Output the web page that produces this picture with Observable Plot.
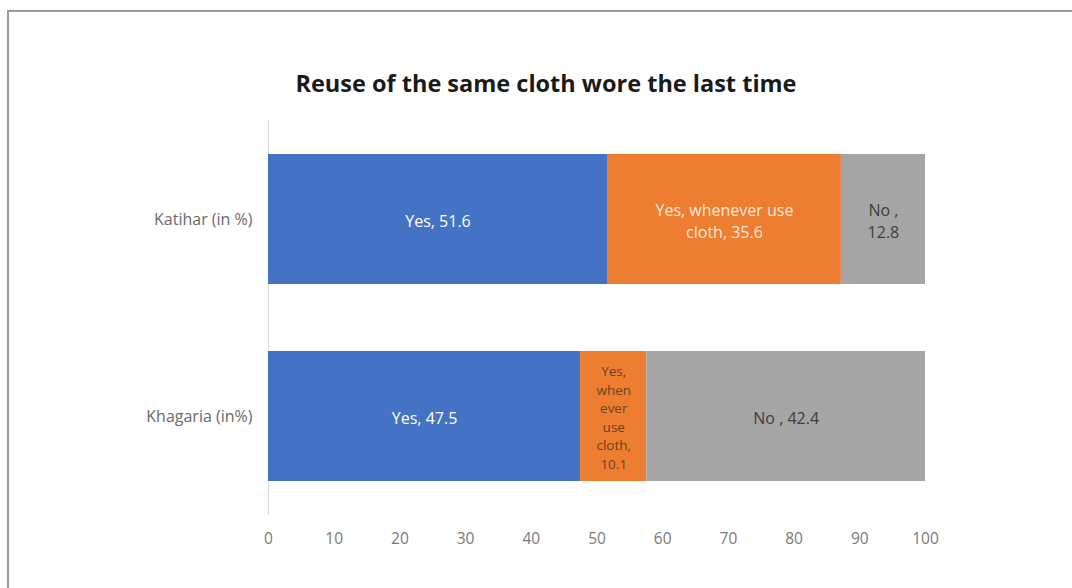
<!DOCTYPE html>
<html>
<head>
<meta charset="utf-8">
<script src="https://cdn.jsdelivr.net/npm/d3@7"></script>
<script src="https://cdn.jsdelivr.net/npm/@observablehq/plot@0.6"></script>
<style>
  html, body { margin: 0; padding: 0; background: #fff; }
  #wrap { position: relative; width: 1072px; height: 588px; overflow: hidden; font-family: "Open Sans", sans-serif; }
  #frame { position: absolute; left: 7px; top: 10px; right: -4px; bottom: -4px; border-left: 2px solid #9a9a9a; border-top: 2px solid #9a9a9a; }
  #title { position: absolute; left: 0; width: 1092px; top: 67px; text-align: center; font: bold 23.5px "Open Sans", sans-serif; color: #1a1a1a; line-height: 32px; }
  #chart { position: absolute; left: 0; top: 0; }
</style>
</head>
<body>
<div id="wrap">
  <div id="chart"></div>
  <div id="frame"></div>
  <div id="title">Reuse of the same cloth wore the last time</div>
</div>
<script>
// Districts (top to bottom) and response categories (left to right)
const regions = ["Katihar (in %)", "Khagaria (in%)"];
const responses = ["Yes", "Yes, whenever use cloth", "No"];

// Percentages per district, in response order
const katiharValues = [51.6, 35.6, 12.8];
const khagariaValues = [47.5, 10.1, 42.4];

// Label prefix written inside each segment (the value is appended)
const katiharPrefixes = ["Yes, ", "Yes, whenever use\ncloth, ", "No ,\n"];
const khagariaPrefixes = ["Yes, ", "Yes,\nwhen\never\nuse\ncloth,\n", "No , "];

const xTicks = [0, 10, 20, 30, 40, 50, 60, 70, 80, 90, 100];

const colors = ["#4472C4", "#ED7D31", "#A5A5A5"];
const labelColors = {
  "Katihar (in %)": ["#ffffff", "#fbe9da", "#404040"],
  "Khagaria (in%)": ["#ffffff", "#6b4422", "#404040"]
};

// One row per segment, with its running start so labels sit mid-segment
const rows = [];
[[regions[0], katiharValues, katiharPrefixes], [regions[1], khagariaValues, khagariaPrefixes]]
  .forEach(([region, values, prefixes]) => {
    let start = 0;
    values.forEach((v, i) => {
      rows.push({
        region,
        response: responses[i],
        value: v,
        start,
        mid: start + v / 2,
        label: prefixes[i] + v,
        ink: labelColors[region][i],
        narrow: region === regions[1] && i === 1
      });
      start += v;
    });
  });

const chart = Plot.plot({
  width: 1072,
  height: 588,
  marginLeft: 268,
  marginRight: 147,
  marginTop: 120,
  marginBottom: 73,
  style: { fontFamily: "'Open Sans', sans-serif", background: "transparent" },
  x: { domain: [0, 100], label: null },
  y: { domain: regions, paddingInner: 0.342, paddingOuter: 0.171, label: null },
  color: { domain: responses, range: colors },
  marks: [
    Plot.ruleX([0], { stroke: "#d9d9d9", strokeWidth: 1 }),
    Plot.barX(rows, { x1: "start", x2: d => d.start + d.value, y: "region", fill: "response" }),
    Plot.text(rows.filter(d => !d.narrow), {
      x: "mid", y: "region", text: "label", fill: "ink",
      fontSize: 16, lineHeight: 1.38
    }),
    Plot.text(rows.filter(d => d.narrow), {
      x: "mid", y: "region", text: "label", fill: "ink",
      fontSize: 13.5, lineHeight: 1.38
    }),
    Plot.axisX({ ticks: xTicks, tickSize: 0, tickPadding: 17, fontSize: 15.5, fill: "#7a7a7a" }),
    Plot.axisY({ tickSize: 0, tickPadding: 16, fontSize: 16, fill: "#6a6a6a" })
  ]
});
document.getElementById("chart").appendChild(chart);
</script>
</body>
</html>
